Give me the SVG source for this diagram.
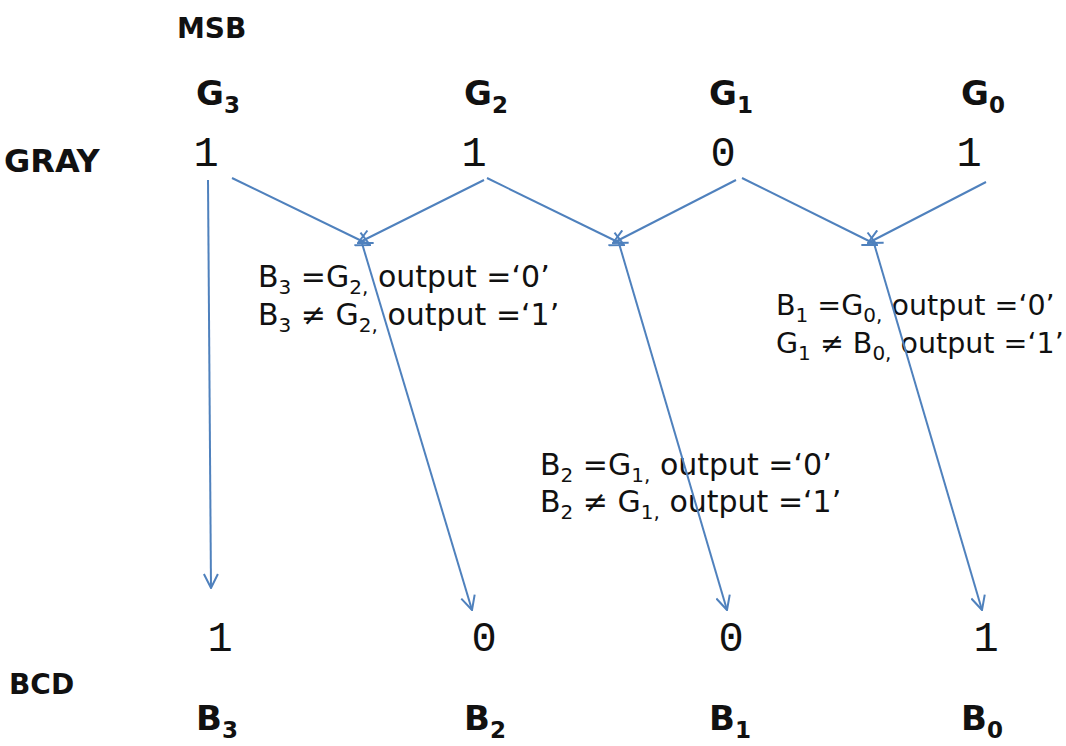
<svg xmlns="http://www.w3.org/2000/svg" width="1066" height="746" viewBox="0 0 1066 746">
  <style>
    .hdr { font-family: "DejaVu Sans", Verdana, sans-serif; font-weight: bold; fill: #111; }
    .name { font-family: "DejaVu Sans", Verdana, sans-serif; font-weight: bold; font-size: 34px; fill: #111; }
    .nsub { font-size: 23px; }
    .bit { font-family: "Liberation Mono", "Courier New", monospace; font-size: 42px; fill: #111; text-anchor: middle; }
    .rule { font-family: "DejaVu Sans", Verdana, sans-serif; font-size: 30px; fill: #111; }
    .rule.narrow { font-size: 28.5px; }
    .sub { font-size: 20px; }
    .conn { stroke: #4F81BD; stroke-width: 2; fill: none; marker-end: url(#vhead); }
  </style>
  <defs>
    <marker id="vhead" viewBox="0 0 16 16" refX="15" refY="8" markerWidth="16" markerHeight="16" markerUnits="userSpaceOnUse" orient="auto">
      <path d="M1,1 L15,8 L1,15" fill="none" stroke="#4F81BD" stroke-width="2"/>
    </marker>
  </defs>
  <rect width="1066" height="746" fill="#fff"/>

  <!-- row labels -->
  <g id="label-msb"><text class="hdr" x="177" y="38" font-size="28">MSB</text></g>
  <g id="label-gray"><text class="hdr" x="4" y="172" font-size="32">GRAY</text></g>
  <g id="label-bcd"><text class="hdr" x="9" y="694" font-size="28">BCD</text></g>

  <!-- gray code bit names -->
  <g id="g3"><text class="name" x="196" y="105">G<tspan class="nsub" dy="8">3</tspan></text></g>
  <g id="g2"><text class="name" x="464" y="105">G<tspan class="nsub" dy="8">2</tspan></text></g>
  <g id="g1"><text class="name" x="709" y="105">G<tspan class="nsub" dy="8">1</tspan></text></g>
  <g id="g0"><text class="name" x="961" y="105">G<tspan class="nsub" dy="8">0</tspan></text></g>

  <!-- gray code values -->
  <g id="gray-bits">
    <text class="bit" x="206" y="166">1</text>
    <text class="bit" x="474" y="166">1</text>
    <text class="bit" x="723" y="166">0</text>
    <text class="bit" x="969" y="166">1</text>
  </g>

  <!-- binary values -->
  <g id="bcd-bits">
    <text class="bit" x="220" y="651">1</text>
    <text class="bit" x="484" y="651">0</text>
    <text class="bit" x="731" y="651">0</text>
    <text class="bit" x="986" y="651">1</text>
  </g>

  <!-- binary bit names -->
  <g id="b3"><text class="name" x="196" y="730">B<tspan class="nsub" dy="8">3</tspan></text></g>
  <g id="b2"><text class="name" x="464" y="730">B<tspan class="nsub" dy="8">2</tspan></text></g>
  <g id="b1"><text class="name" x="709" y="730">B<tspan class="nsub" dy="8">1</tspan></text></g>
  <g id="b0"><text class="name" x="961" y="730">B<tspan class="nsub" dy="8">0</tspan></text></g>

  <!-- XOR rules -->
  <g id="rule-b3">
    <text class="rule" x="258" y="287">B<tspan class="sub" dy="7">3</tspan><tspan dy="-7"> =G</tspan><tspan class="sub" dy="7">2,</tspan><tspan dy="-7"> output =‘0’</tspan></text>
    <text class="rule" x="258" y="325">B<tspan class="sub" dy="7">3</tspan><tspan dy="-7"> ≠ G</tspan><tspan class="sub" dy="7">2,</tspan><tspan dy="-7"> output =‘1’</tspan></text>
  </g>
  <g id="rule-b2">
    <text class="rule" x="540" y="475">B<tspan class="sub" dy="7">2</tspan><tspan dy="-7"> =G</tspan><tspan class="sub" dy="7">1,</tspan><tspan dy="-7"> output =‘0’</tspan></text>
    <text class="rule" x="540" y="512">B<tspan class="sub" dy="7">2</tspan><tspan dy="-7"> ≠ G</tspan><tspan class="sub" dy="7">1,</tspan><tspan dy="-7"> output =‘1’</tspan></text>
  </g>
  <g id="rule-b1">
    <text class="rule narrow" x="776" y="315">B<tspan class="sub" dy="7">1</tspan><tspan dy="-7"> =G</tspan><tspan class="sub" dy="7">0,</tspan><tspan dy="-7"> output =‘0’</tspan></text>
    <text class="rule narrow" x="776" y="353">G<tspan class="sub" dy="7">1</tspan><tspan dy="-7"> ≠ B</tspan><tspan class="sub" dy="7">0,</tspan><tspan dy="-7"> output =‘1’</tspan></text>
  </g>

  <!-- connectors -->
  <g id="connectors">
    <line class="conn" x1="208" y1="180" x2="211" y2="588"/>
    <line class="conn" x1="232" y1="178" x2="370" y2="245"/>
    <line class="conn" x1="484" y1="180" x2="358" y2="243"/>
    <line class="conn" x1="487" y1="178" x2="624" y2="245"/>
    <line class="conn" x1="736" y1="180" x2="613" y2="243"/>
    <line class="conn" x1="742" y1="178" x2="877" y2="245"/>
    <line class="conn" x1="986" y1="182" x2="868" y2="243"/>
    <line class="conn" x1="361" y1="240" x2="472" y2="610"/>
    <line class="conn" x1="618" y1="240" x2="727" y2="610"/>
    <line class="conn" x1="873" y1="240" x2="982" y2="610"/>
  </g>
</svg>
